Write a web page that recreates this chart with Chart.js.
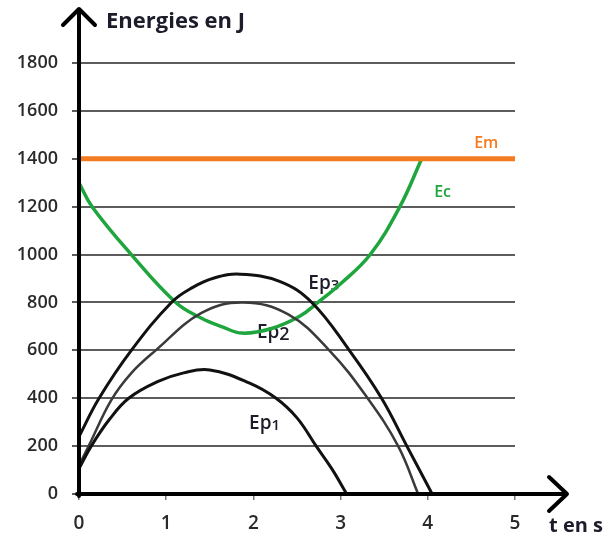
<!DOCTYPE html>
<html>
<head>
<meta charset="utf-8">
<script src="https://cdn.jsdelivr.net/npm/chart.js@4/dist/chart.umd.min.js"></script>
<style>
  html, body { margin: 0; padding: 0; background: #fff; }
  canvas { display: block; }
</style>
</head>
<body>
<canvas id="energyChart" width="612" height="539"></canvas>
<script>
// axis ticks
const timeTicks = [0, 1, 2, 3, 4, 5];
const energyTicks = [0, 200, 400, 600, 800, 1000, 1200, 1400, 1600, 1800];

// mechanical energy (constant)
const emTime = [0, 5];
const emValues = [1400, 1400];

// kinetic energy
const ecTime = [0, 0.15, 0.6, 1.11, 1.4, 1.65, 1.87, 2.2, 2.53, 2.74, 3.0, 3.34, 3.68, 3.93];
const ecValues = [1300, 1200, 1000, 800, 735, 697, 672, 690, 742, 800, 878, 1000, 1200, 1400];

// potential energies
const ep3Time = [0, 0.23, 0.6, 1.06, 1.3, 1.55, 1.85, 2.3, 2.67, 3.1, 3.47, 3.76, 4.05];
const ep3Values = [240, 400, 600, 800, 862, 902, 918, 888, 800, 600, 400, 200, 0];

const ep2Time = [0, 0.11, 0.37, 0.6, 0.88, 1.4, 1.88, 2.4, 2.87, 3.31, 3.66, 3.89];
const ep2Values = [120, 200, 392, 505, 600, 755, 800, 750, 600, 400, 200, 0];

const ep1Time = [0, 0.14, 0.35, 0.57, 0.9, 1.2, 1.5, 1.95, 2.26, 2.5, 2.72, 2.9, 3.07];
const ep1Values = [106, 200, 312, 400, 469, 506, 518, 464, 400, 318, 200, 105, 0];

const FONT = "'Open Sans', 'Liberation Sans', sans-serif";

function toPoints(xs, ys) {
    return xs.map((x, i) => ({x: x, y: ys[i]}));
}

function curve(label, xs, ys, color, width) {
    return {
        label: label,
        data: toPoints(xs, ys),
        borderColor: color,
        borderWidth: width,
        pointRadius: 0,
        fill: false,
        tension: 0.4,
        borderCapStyle: 'round'
    };
}

// text drawn below the curves (Ep labels) and the axes + arrows on top
const decorations = {
    id: 'decorations',
    beforeDatasetsDraw(chart) {
        const {ctx, scales: {x, y}} = chart;
        ctx.save();
        ctx.fillStyle = '#1c1c2a';
        ctx.textBaseline = 'middle';
        ctx.textAlign = 'left';
        const epLabel = (t, e, digit, digitSize) => {
            const px = x.getPixelForValue(t), py = y.getPixelForValue(e);
            ctx.font = '600 19px ' + FONT;
            ctx.fillText('Ep', px, py);
            const w = ctx.measureText('Ep').width;
            ctx.font = '600 ' + digitSize + 'px ' + FONT;
            ctx.fillText(digit, px + w, py + 2);
        };
        epLabel(2.63, 877, '3', 15);
        epLabel(2.04, 672, '2', 18);
        epLabel(1.95, 292, '1', 15);
        ctx.restore();
    },
    afterDraw(chart) {
        const {ctx, scales: {x, y}} = chart;
        const x0 = x.getPixelForValue(0);
        const y0 = y.getPixelForValue(0);
        ctx.save();
        ctx.strokeStyle = '#000';
        ctx.lineWidth = 4;
        ctx.lineCap = 'round';
        ctx.lineJoin = 'round';
        // y axis + arrow
        ctx.beginPath();
        ctx.moveTo(x0, y0 + 2);
        ctx.lineTo(x0, 10);
        ctx.moveTo(x0 - 16, 25);
        ctx.lineTo(x0, 9);
        ctx.lineTo(x0 + 16, 25);
        ctx.stroke();
        // x axis + arrow
        ctx.beginPath();
        ctx.moveTo(x0 - 2, y0);
        ctx.lineTo(566, y0);
        ctx.moveTo(549, y0 - 17);
        ctx.lineTo(567, y0);
        ctx.lineTo(549, y0 + 17);
        ctx.stroke();

        // axis titles
        ctx.fillStyle = '#1c1c2a';
        ctx.textBaseline = 'alphabetic';
        ctx.textAlign = 'left';
        ctx.font = '700 22px ' + FONT;
        ctx.fillText('Energies en J', 106, 28);
        ctx.font = '700 20px ' + FONT;
        ctx.fillText('t en s', 549, 532);

        // Em / Ec labels
        ctx.font = '600 16px ' + FONT;
        ctx.textAlign = 'center';
        ctx.textBaseline = 'middle';
        ctx.fillStyle = '#F47B20';
        ctx.fillText('Em', x.getPixelForValue(4.67), y.getPixelForValue(1466));
        ctx.fillStyle = '#1FA53D';
        ctx.fillText('Ec', x.getPixelForValue(4.17), y.getPixelForValue(1261));
        ctx.restore();
    }
};

new Chart(document.getElementById('energyChart'), {
    type: 'line',
    data: {
        datasets: [
            curve('Ep1', ep1Time, ep1Values, '#111', 3),
            curve('Ep2', ep2Time, ep2Values, '#3a3a3a', 2.5),
            curve('Ep3', ep3Time, ep3Values, '#111', 3),
            curve('Em', emTime, emValues, '#F47B20', 5),
            curve('Ec', ecTime, ecValues, '#1FA53D', 3.5)
        ]
    },
    options: {
        responsive: false,
        animation: false,
        events: [],
        layout: { padding: { top: 63, right: 97, bottom: 0, left: 0 } },
        plugins: {
            legend: { display: false },
            tooltip: { enabled: false }
        },
        scales: {
            x: {
                type: 'linear',
                min: timeTicks[0],
                max: timeTicks[timeTicks.length - 1],
                afterBuildTicks: s => { s.ticks = timeTicks.map(v => ({value: v})); },
                afterFit: s => { s.height = 45; },
                border: { display: false },
                grid: { drawOnChartArea: false, drawTicks: true, tickLength: 6, color: '#777', lineWidth: 1.5 },
                ticks: { padding: 12, color: '#2a2a2a', font: { family: FONT, size: 19, weight: '600' },
                         callback: v => String(v) }
            },
            y: {
                type: 'linear',
                min: energyTicks[0],
                max: energyTicks[energyTicks.length - 1],
                afterBuildTicks: s => { s.ticks = energyTicks.map(v => ({value: v})); },
                afterFit: s => { s.width = 79; },
                border: { display: false },
                grid: { color: '#5c5c5c', lineWidth: 2, tickLength: 7 },
                ticks: { padding: 14, color: '#2a2a2a', font: { family: FONT, size: 18, weight: '600' },
                         callback: v => String(v) }
            }
        }
    },
    plugins: [decorations]
});
</script>
</body>
</html>
